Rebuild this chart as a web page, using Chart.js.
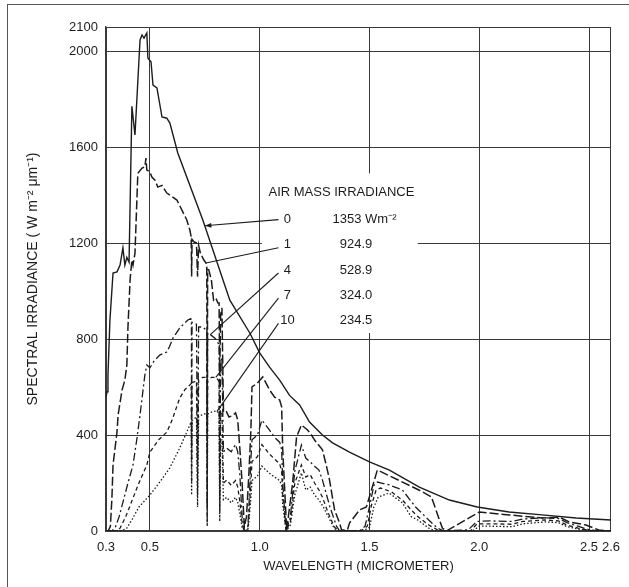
<!DOCTYPE html>
<html>
<head>
<meta charset="utf-8">
<script src="https://cdn.jsdelivr.net/npm/chart.js@4.4.1/dist/chart.umd.min.js"></script>
<style>
  html, body { margin: 0; padding: 0; background: #fff; overflow: hidden; }
  #wrap { position: relative; width: 629px; height: 587px; }
  #frame { position: absolute; left: 7px; top: 4px; width: 640px; height: 600px;
           border-left: 1.5px solid #555; border-top: 1.5px solid #555; }
  canvas { position: absolute; left: 0; top: 0; }
</style>
</head>
<body>
<div id="wrap">
  <canvas id="chart" width="629" height="587"></canvas>
  <div id="frame"></div>
</div>
<script>
// ticks
const waveTicks = [0.3, 0.5, 1.0, 1.5, 2.0, 2.5, 2.6];
const irrTicks = [0, 400, 800, 1200, 1600, 2000, 2100];

// legend table
const airMass = ['0', '1', '4', '7', '10'];
const totalIrr = ['1353 Wm\u207B\u00B2', '924.9', '528.9', '324.0', '234.5'];
const leaderWave = [0.75, 0.755, 0.775, 0.80, 0.805];

// air mass 0
const am0Wave = [0.30, 0.305, 0.309, 0.318, 0.332, 0.35, 0.364, 0.377, 0.386, 0.395, 0.405, 0.418, 0.432, 0.455, 0.464,
  0.473, 0.486, 0.491, 0.505, 0.514, 0.532, 0.555, 0.577, 0.591, 0.627, 0.741, 0.864, 0.955, 1.0, 1.045, 1.091,
  1.136, 1.182, 1.227, 1.286, 1.332, 1.409, 1.5, 1.591, 1.727, 1.864, 1.991, 2.136, 2.286, 2.441, 2.6];
const am0Irr = [560, 580, 650, 880, 1075, 1080, 1108, 1180, 1108, 1140, 1120, 1770, 1650, 2046, 2067,
  2054, 2075, 1970, 1955, 1858, 1846, 1725, 1720, 1700, 1575, 1296, 962, 825, 742, 683, 629,
  565, 525, 454, 400, 367, 329, 288, 254, 183, 129, 100, 79, 67, 54, 46];

// air mass 1
const am1Wave = [0.30, 0.31, 0.32, 0.327, 0.332, 0.35, 0.355, 0.373, 0.386, 0.395, 0.40, 0.41, 0.418, 0.423, 0.432,
  0.445, 0.464, 0.477, 0.482, 0.486, 0.50, 0.509, 0.523, 0.536, 0.555, 0.577, 0.591, 0.623, 0.668, 0.682, 0.688,
  0.69, 0.692, 0.70, 0.712, 0.717, 0.722, 0.73, 0.745, 0.755, 0.759, 0.761, 0.763, 0.768, 0.78, 0.79, 0.80, 0.81,
  0.815, 0.818, 0.822, 0.828, 0.835, 0.845, 0.86, 0.875, 0.89, 0.90, 0.91, 0.92, 0.93, 0.94, 0.95, 0.96, 0.965,
  0.99, 1.014, 1.045, 1.068, 1.091, 1.10, 1.105, 1.123, 1.15, 1.168, 1.19, 1.218, 1.236, 1.25, 1.286, 1.305, 1.318,
  1.341, 1.364, 1.373, 1.40, 1.409, 1.455, 1.486, 1.509, 1.536, 1.727, 1.782, 1.832, 1.85, 2.0, 2.136, 2.286,
  2.364, 2.41, 2.486, 2.545, 2.6];
const am1Irr = [0, 0, 20, 138, 275, 412, 483, 587, 629, 692, 850, 1050, 1129, 1108, 1158,
  1490, 1512, 1517, 1554, 1504, 1496, 1475, 1462, 1433, 1440, 1408, 1400, 1379, 1296, 1254, 1225,
  1060, 1215, 1205, 1200, 1060, 1190, 1158, 1130, 1117, 1100, 420, 1090, 1088, 1046, 962, 971, 950,
  950, 650, 900, 930, 500, 504, 475, 480, 492, 463, 338, 200, 17, 60, 225, 421, 600,
  617, 642, 588, 558, 546, 517, 338, 4, 200, 392, 442, 421, 400, 379, 338, 267, 213,
  88, 33, 4, 5, 33, 88, 100, 171, 254, 170, 142, 12, 0, 79, 67, 54,
  58, 38, 25, 4, 0];

// air mass 4
const am4Wave = [0.30, 0.325, 0.341, 0.36, 0.38, 0.40, 0.423, 0.44, 0.455, 0.477, 0.486, 0.50, 0.52, 0.545, 0.577,
  0.59, 0.605, 0.636, 0.673, 0.686, 0.689, 0.69, 0.692, 0.712, 0.717, 0.722, 0.74, 0.755, 0.759, 0.761, 0.763,
  0.78, 0.80, 0.81, 0.815, 0.818, 0.822, 0.828, 0.835, 0.85, 0.87, 0.89, 0.90, 0.91, 0.92, 0.93, 0.945, 0.95,
  0.96, 0.965, 0.99, 1.01, 1.045, 1.068, 1.091, 1.10, 1.105, 1.12, 1.14, 1.16, 1.19, 1.21, 1.23, 1.25, 1.27,
  1.286, 1.32, 1.35, 1.364, 1.455, 1.48, 1.50, 1.52, 1.536, 1.59, 1.65, 1.71, 1.77, 1.81, 1.84, 1.95, 1.99,
  2.05, 2.15, 2.20, 2.30, 2.36, 2.40, 2.45, 2.50, 2.55, 2.6];
const am4Irr = [0, 0, 12, 60, 130, 200, 275, 380, 483, 650, 692, 680, 710, 733, 746,
  770, 804, 846, 879, 885, 880, 300, 870, 862, 280, 850, 850, 838, 830, 100, 825,
  815, 800, 783, 780, 150, 700, 720, 330, 345, 330, 360, 330, 230, 60, 0, 5, 80,
  300, 380, 400, 462, 420, 390, 370, 340, 200, 0, 60, 250, 358, 304, 288, 270, 254,
  212, 100, 20, 0, 0, 20, 100, 190, 204, 192, 171, 100, 46, 12, 0, 5, 40,
  42, 40, 50, 55, 52, 35, 20, 5, 0, 0];

// air mass 7
const am7Wave = [0.30, 0.35, 0.364, 0.39, 0.423, 0.45, 0.486, 0.50, 0.54, 0.577, 0.60, 0.636, 0.66, 0.682, 0.688,
  0.69, 0.692, 0.712, 0.717, 0.722, 0.74, 0.755, 0.759, 0.761, 0.763, 0.78, 0.80, 0.81, 0.815, 0.818, 0.822,
  0.828, 0.835, 0.85, 0.87, 0.89, 0.90, 0.91, 0.92, 0.93, 0.945, 0.95, 0.96, 0.965, 0.99, 1.01, 1.045, 1.068,
  1.091, 1.10, 1.105, 1.12, 1.14, 1.16, 1.19, 1.21, 1.23, 1.25, 1.27, 1.286, 1.31, 1.34, 1.36, 1.46, 1.49,
  1.51, 1.53, 1.55, 1.60, 1.65, 1.69, 1.72, 1.77, 1.81, 1.83, 1.96, 1.99, 2.05, 2.15, 2.20, 2.30, 2.36, 2.40,
  2.45, 2.50, 2.53, 2.6];
const am7Irr = [0, 0, 12, 60, 137, 200, 275, 329, 380, 412, 460, 554, 590, 608, 615,
  200, 618, 625, 150, 630, 640, 640, 635, 40, 632, 640, 640, 630, 620, 80, 500,
  500, 200, 212, 190, 210, 183, 120, 30, 0, 0, 50, 200, 290, 310, 360, 320, 300,
  280, 250, 150, 0, 40, 200, 275, 225, 235, 200, 171, 140, 80, 17, 0, 0, 20,
  110, 170, 179, 163, 129, 88, 60, 25, 5, 0, 0, 30, 30, 28, 40, 46, 42, 25,
  12, 3, 0, 0];

// air mass 10
const am10Wave = [0.30, 0.37, 0.395, 0.42, 0.45, 0.50, 0.55, 0.59, 0.636, 0.682, 0.688, 0.69, 0.692, 0.712, 0.717,
  0.722, 0.74, 0.755, 0.759, 0.761, 0.763, 0.78, 0.80, 0.81, 0.815, 0.818, 0.822, 0.828, 0.835, 0.85, 0.87,
  0.89, 0.90, 0.91, 0.92, 0.93, 0.945, 0.95, 0.96, 0.965, 0.99, 1.01, 1.045, 1.068, 1.091, 1.10, 1.105, 1.12,
  1.14, 1.16, 1.19, 1.21, 1.23, 1.25, 1.27, 1.29, 1.32, 1.34, 1.36, 1.47, 1.50, 1.52, 1.54, 1.59, 1.65, 1.69,
  1.72, 1.77, 1.80, 1.97, 2.0, 2.05, 2.15, 2.20, 2.30, 2.36, 2.40, 2.45, 2.50, 2.52, 2.6];
const am10Irr = [0, 0, 12, 50, 100, 150, 210, 262, 346, 442, 455, 150, 460, 475, 100,
  478, 485, 490, 488, 20, 488, 495, 500, 495, 490, 40, 380, 380, 130, 140, 117,
  140, 120, 70, 15, 0, 0, 30, 140, 210, 230, 270, 240, 225, 210, 190, 110, 0,
  25, 150, 242, 171, 183, 150, 129, 100, 46, 10, 0, 0, 15, 100, 142, 158, 117, 60,
  46, 12, 0, 0, 20, 20, 18, 30, 38, 35, 18, 8, 2, 0, 0];

// area behind the legend text where the grid is left blank
const blankWave = [1.01, 1.72];
const blankIrr = [825, 1490];

const ink = '#1c1c1c';
const gridInk = '#3a3a3a';
const fontFamily = "'Liberation Sans', Arial, Helvetica, sans-serif";

const lines = [
  { wave: am0Wave, irr: am0Irr, dash: [], width: 1.4 },
  { wave: am1Wave, irr: am1Irr, dash: [9, 3], width: 1.5 },
  { wave: am4Wave, irr: am4Irr, dash: [8, 3, 2, 3], width: 1.3 },
  { wave: am7Wave, irr: am7Irr, dash: [4, 3], width: 1.3 },
  { wave: am10Wave, irr: am10Irr, dash: [1.5, 2], width: 1.3 }
];

const valueAt = (wave, irr, w) => {
  for (let i = 1; i < wave.length; i++) {
    if (w <= wave[i]) {
      const t = (w - wave[i - 1]) / (wave[i] - wave[i - 1]);
      return irr[i - 1] + t * (irr[i] - irr[i - 1]);
    }
  }
  return irr[irr.length - 1];
};

const blankPlugin = {
  id: 'blank',
  beforeDatasetsDraw(chart) {
    const { ctx, scales: { x, y } } = chart;
    const l = x.getPixelForValue(blankWave[0]);
    const r = x.getPixelForValue(blankWave[1]);
    const t = y.getPixelForValue(blankIrr[1]);
    const b = y.getPixelForValue(blankIrr[0]);
    ctx.save();
    ctx.fillStyle = '#fff';
    ctx.fillRect(l, t, r - l, b - t);
    ctx.restore();
  }
};

const legendPlugin = {
  id: 'airMassTable',
  afterDatasetsDraw(chart) {
    const { ctx, scales: { x, y } } = chart;
    const left = x.getPixelForValue(1.04);
    const headY = y.getPixelForValue(1410);
    ctx.save();
    ctx.fillStyle = ink;
    ctx.strokeStyle = ink;
    ctx.lineWidth = 1.1;
    ctx.font = '13px ' + fontFamily;
    ctx.textBaseline = 'middle';
    ctx.textAlign = 'left';
    ctx.fillText('AIR MASS IRRADIANCE', left, headY);

    airMass.forEach((m, i) => {
      const rowY = headY + 27 + i * 25.2;
      ctx.textAlign = 'center';
      ctx.fillText(m, left + 19, rowY);

      // numbers lined up on the decimal point
      const txt = totalIrr[i];
      const cut = txt.indexOf('.') >= 0 ? txt.indexOf('.') : txt.indexOf(' ');
      ctx.textAlign = 'right';
      ctx.fillText(txt.slice(0, cut), left + 93, rowY);
      ctx.textAlign = 'left';
      ctx.fillText(txt.slice(cut), left + 93, rowY);

      // leader line to the curve
      const s = lines[i];
      const tx = x.getPixelForValue(leaderWave[i]);
      const ty = y.getPixelForValue(valueAt(s.wave, s.irr, leaderWave[i]));
      const sx = left + 10;
      const sy = i === 0 ? rowY : rowY + 3;
      ctx.beginPath();
      ctx.moveTo(sx, sy);
      ctx.lineTo(tx, ty);
      ctx.stroke();
      if (i === 0) {
        const a = Math.atan2(ty - sy, tx - sx);
        ctx.beginPath();
        ctx.moveTo(tx, ty);
        ctx.lineTo(tx - 7 * Math.cos(a - 0.35), ty - 7 * Math.sin(a - 0.35));
        ctx.lineTo(tx - 7 * Math.cos(a + 0.35), ty - 7 * Math.sin(a + 0.35));
        ctx.closePath();
        ctx.fill();
      }
    });
    ctx.restore();
  }
};

const datasets = lines.map((s, i) => ({
  label: 'AIR MASS ' + airMass[i],
  data: s.wave.map((w, j) => ({ x: w, y: s.irr[j] })),
  borderColor: ink,
  borderWidth: s.width,
  borderDash: s.dash,
  pointRadius: 0,
  tension: 0,
  fill: false
}));

const ctx = document.getElementById('chart').getContext('2d');
new Chart(ctx, {
  type: 'line',
  data: { datasets },
  plugins: [blankPlugin, legendPlugin],
  options: {
    responsive: false,
    animation: false,
    events: [],
    layout: { padding: { left: 0, top: 27, right: 17, bottom: 0 } },
    plugins: { legend: { display: false }, tooltip: { enabled: false } },
    scales: {
      x: {
        type: 'linear',
        min: 0.3,
        max: 2.6,
        afterBuildTicks: scale => { scale.ticks = waveTicks.map(v => ({ value: v })); },
        afterFit: scale => { scale.height = 56; },
        ticks: {
          autoSkip: false,
          maxRotation: 0,
          padding: 9,
          color: ink,
          font: { family: fontFamily, size: 13 },
          callback: v => v.toFixed(1)
        },
        grid: { color: gridInk, lineWidth: 1, drawTicks: false },
        border: { color: gridInk, width: 1.3 },
        title: {
          display: true,
          text: 'WAVELENGTH (MICROMETER)',
          color: ink,
          font: { family: fontFamily, size: 13 },
          padding: { top: 4, bottom: 13 }
        }
      },
      y: {
        type: 'linear',
        min: 0,
        max: 2100,
        afterBuildTicks: scale => { scale.ticks = irrTicks.map(v => ({ value: v })); },
        afterFit: scale => { scale.width = 106; },
        ticks: {
          autoSkip: false,
          padding: 8,
          color: ink,
          font: { family: fontFamily, size: 13 },
          callback: v => String(v)
        },
        grid: { color: gridInk, lineWidth: 1, drawTicks: false },
        border: { color: gridInk, width: 1.3 },
        title: {
          display: true,
          text: 'SPECTRAL IRRADIANCE ( W m\u207B\u00B2 \u03BCm\u207B\u00B9)',
          color: ink,
          font: { family: fontFamily, size: 14 },
          padding: { top: 25, bottom: 0 }
        }
      }
    }
  }
});
</script>
</body>
</html>
